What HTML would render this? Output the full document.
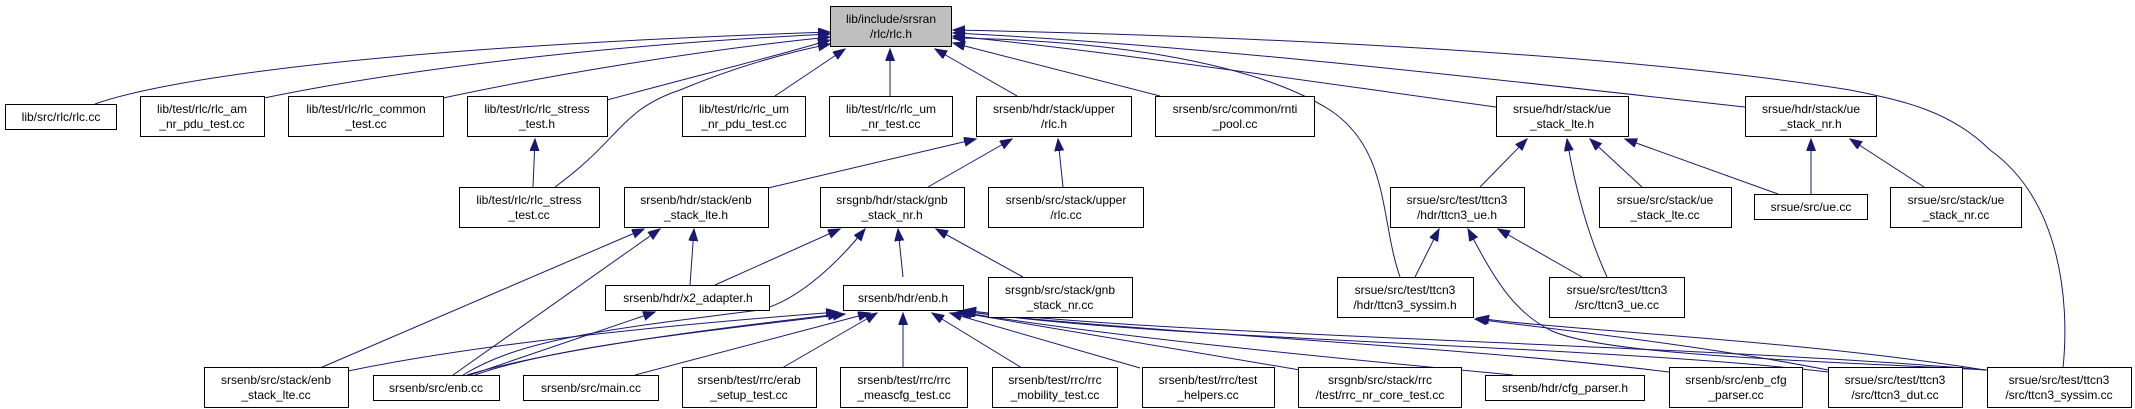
<!DOCTYPE html>
<html><head><meta charset="utf-8"><style>
html,body{margin:0;padding:0;background:#fff;}
svg{display:block;}
text{font-family:"Liberation Sans",sans-serif;font-size:12px;fill:#000;text-anchor:middle;}
.n{fill:#fff;stroke:#000;stroke-width:1;}
.e{fill:none;stroke:#191970;stroke-width:1;}
</style></head><body>
<svg width="2135" height="409" viewBox="0 0 2135 409" xmlns="http://www.w3.org/2000/svg">
<defs>
<marker id="a" markerUnits="userSpaceOnUse" markerWidth="14" markerHeight="12" refX="12" refY="4.5" orient="auto">
<polygon points="0,0 12,4.5 0,9" fill="#191970" stroke="#191970"/>
</marker>
</defs>
<g class="e" marker-end="url(#a)">
<path d="M95,104 C140,88 300,50 830,32"/>
<path d="M264,98 C400,70 600,45 830,34"/>
<path d="M443,98 C550,75 700,50 830,37"/>
<path d="M607,100 C700,75 780,55 830,40"/>
<path d="M555,187 C620,140 620,110 680,90 C740,65 790,52 830,44"/>
<path d="M775,96 L845,49"/>
<path d="M890,96 L890,49"/>
<path d="M1017,96 L935,49"/>
<path d="M1160,96 L953,43"/>
<path d="M1496,107 C1300,80 1100,50 953,36"/>
<path d="M1745,107 C1500,80 1200,45 953,33"/>
<path d="M1400,277 C1380,220 1390,150 1330,110 C1250,60 1100,40 953,38"/>
<path d="M2063,368 C2070,300 2060,200 1990,150 C1950,110 1900,100 1850,90 C1600,50 1200,35 953,30"/>
<path d="M768,188 L976,139"/>
<path d="M928,187 L1012,139"/>
<path d="M1063,187 L1058,139"/>
<path d="M533,187 L535,139"/>
<path d="M690,285 L694,229"/>
<path d="M320,368 L644,229"/>
<path d="M453,375 L660,229"/>
<path d="M715,285 L840,229"/>
<path d="M463,375 C520,340 600,330 760,310 C800,300 840,260 865,229"/>
<path d="M903,277 L898,229"/>
<path d="M1023,277 L936,229"/>
<path d="M470,375 L655,312"/>
<path d="M348,371 C450,350 600,330 838,312"/>
<path d="M467,375 C550,350 700,330 840,314"/>
<path d="M475,375 C560,345 720,330 845,314"/>
<path d="M635,375 L870,313"/>
<path d="M782,368 L877,313"/>
<path d="M903,368 L903,313"/>
<path d="M1022,368 L932,313"/>
<path d="M1140,368 L950,313"/>
<path d="M1300,370 L957,312"/>
<path d="M1513,375 C1300,355 1100,335 960,312"/>
<path d="M1669,372 C1450,345 1100,330 962,311"/>
<path d="M1828,372 C1600,345 1150,340 964,311"/>
<path d="M1987,370 C1700,345 1150,335 964,310"/>
<path d="M1480,187 L1527,139"/>
<path d="M1607,277 C1590,240 1575,190 1567,139"/>
<path d="M1642,187 L1590,139"/>
<path d="M1778,194 L1625,139"/>
<path d="M1811,194 L1811,139"/>
<path d="M1924,187 L1850,139"/>
<path d="M1415,277 L1439,229"/>
<path d="M1582,277 L1498,229"/>
<path d="M1987,370 C1800,360 1600,355 1550,330 C1510,310 1490,270 1468,229"/>
<path d="M1828,370 C1700,345 1560,330 1475,319"/>
<path d="M1985,370 C1800,340 1560,330 1477,318"/>
</g>
<g>
<rect class="n" x="830.5" y="6.5" width="121" height="40" style="fill:#bfbfbf"/><text x="891" y="23">lib/include/srsran</text><text x="891" y="38">/rlc/rlc.h</text>
<rect class="n" x="5.5" y="104.5" width="111" height="25"/><text x="61" y="121">lib/src/rlc/rlc.cc</text>
<rect class="n" x="140.5" y="96.5" width="124" height="40"/><text x="202" y="113">lib/test/rlc/rlc_am</text><text x="202" y="128">_nr_pdu_test.cc</text>
<rect class="n" x="288.5" y="96.5" width="155" height="40"/><text x="366" y="113">lib/test/rlc/rlc_common</text><text x="366" y="128">_test.cc</text>
<rect class="n" x="467.5" y="96.5" width="140" height="40"/><text x="537" y="113">lib/test/rlc/rlc_stress</text><text x="537" y="128">_test.h</text>
<rect class="n" x="682.5" y="96.5" width="123" height="40"/><text x="744" y="113">lib/test/rlc/rlc_um</text><text x="744" y="128">_nr_pdu_test.cc</text>
<rect class="n" x="829.5" y="96.5" width="123" height="40"/><text x="891" y="113">lib/test/rlc/rlc_um</text><text x="891" y="128">_nr_test.cc</text>
<rect class="n" x="976.5" y="96.5" width="155" height="40"/><text x="1054" y="113">srsenb/hdr/stack/upper</text><text x="1054" y="128">/rlc.h</text>
<rect class="n" x="1155.5" y="96.5" width="159" height="40"/><text x="1235" y="113">srsenb/src/common/rnti</text><text x="1235" y="128">_pool.cc</text>
<rect class="n" x="1496.5" y="96.5" width="132" height="40"/><text x="1562" y="113">srsue/hdr/stack/ue</text><text x="1562" y="128">_stack_lte.h</text>
<rect class="n" x="1745.5" y="96.5" width="131" height="40"/><text x="1811" y="113">srsue/hdr/stack/ue</text><text x="1811" y="128">_stack_nr.h</text>

<rect class="n" x="459.5" y="187.5" width="140" height="40"/><text x="529" y="204">lib/test/rlc/rlc_stress</text><text x="529" y="219">_test.cc</text>
<rect class="n" x="624.5" y="187.5" width="144" height="40"/><text x="696" y="204">srsenb/hdr/stack/enb</text><text x="696" y="219">_stack_lte.h</text>
<rect class="n" x="820.5" y="187.5" width="144" height="40"/><text x="892" y="204">srsgnb/hdr/stack/gnb</text><text x="892" y="219">_stack_nr.h</text>
<rect class="n" x="988.5" y="187.5" width="155" height="40"/><text x="1066" y="204">srsenb/src/stack/upper</text><text x="1066" y="219">/rlc.cc</text>
<rect class="n" x="1390.5" y="187.5" width="134" height="40"/><text x="1457" y="204">srsue/src/test/ttcn3</text><text x="1457" y="219">/hdr/ttcn3_ue.h</text>
<rect class="n" x="1599.5" y="187.5" width="132" height="40"/><text x="1665" y="204">srsue/src/stack/ue</text><text x="1665" y="219">_stack_lte.cc</text>
<rect class="n" x="1754.5" y="194.5" width="113" height="25"/><text x="1811" y="211">srsue/src/ue.cc</text>
<rect class="n" x="1890.5" y="187.5" width="131" height="40"/><text x="1956" y="204">srsue/src/stack/ue</text><text x="1956" y="219">_stack_nr.cc</text>

<rect class="n" x="605.5" y="285.5" width="164" height="25"/><text x="688" y="302">srsenb/hdr/x2_adapter.h</text>
<rect class="n" x="843.5" y="285.5" width="120" height="25"/><text x="903" y="302">srsenb/hdr/enb.h</text>
<rect class="n" x="988.5" y="277.5" width="144" height="40"/><text x="1060" y="294">srsgnb/src/stack/gnb</text><text x="1060" y="309">_stack_nr.cc</text>
<rect class="n" x="1337.5" y="277.5" width="136" height="40"/><text x="1405" y="294">srsue/src/test/ttcn3</text><text x="1405" y="309">/hdr/ttcn3_syssim.h</text>
<rect class="n" x="1549.5" y="277.5" width="135" height="40"/><text x="1617" y="294">srsue/src/test/ttcn3</text><text x="1617" y="309">/src/ttcn3_ue.cc</text>

<rect class="n" x="204.5" y="367.5" width="144" height="40"/><text x="276" y="384">srsenb/src/stack/enb</text><text x="276" y="399">_stack_lte.cc</text>
<rect class="n" x="373.5" y="375.5" width="126" height="25"/><text x="436" y="392">srsenb/src/enb.cc</text>
<rect class="n" x="523.5" y="375.5" width="135" height="25"/><text x="591" y="392">srsenb/src/main.cc</text>
<rect class="n" x="682.5" y="367.5" width="134" height="40"/><text x="749" y="384">srsenb/test/rrc/erab</text><text x="749" y="399">_setup_test.cc</text>
<rect class="n" x="840.5" y="367.5" width="127" height="40"/><text x="904" y="384">srsenb/test/rrc/rrc</text><text x="904" y="399">_meascfg_test.cc</text>
<rect class="n" x="992.5" y="367.5" width="125" height="40"/><text x="1055" y="384">srsenb/test/rrc/rrc</text><text x="1055" y="399">_mobility_test.cc</text>
<rect class="n" x="1142.5" y="367.5" width="132" height="40"/><text x="1208" y="384">srsenb/test/rrc/test</text><text x="1208" y="399">_helpers.cc</text>
<rect class="n" x="1298.5" y="367.5" width="163" height="40"/><text x="1380" y="384">srsgnb/src/stack/rrc</text><text x="1380" y="399">/test/rrc_nr_core_test.cc</text>
<rect class="n" x="1485.5" y="375.5" width="159" height="25"/><text x="1565" y="392">srsenb/hdr/cfg_parser.h</text>
<rect class="n" x="1669.5" y="367.5" width="133" height="40"/><text x="1736" y="384">srsenb/src/enb_cfg</text><text x="1736" y="399">_parser.cc</text>
<rect class="n" x="1828.5" y="367.5" width="134" height="40"/><text x="1895" y="384">srsue/src/test/ttcn3</text><text x="1895" y="399">/src/ttcn3_dut.cc</text>
<rect class="n" x="1987.5" y="367.5" width="144" height="40"/><text x="2059" y="384">srsue/src/test/ttcn3</text><text x="2059" y="399">/src/ttcn3_syssim.cc</text>
</g>
</svg>
</body></html>
